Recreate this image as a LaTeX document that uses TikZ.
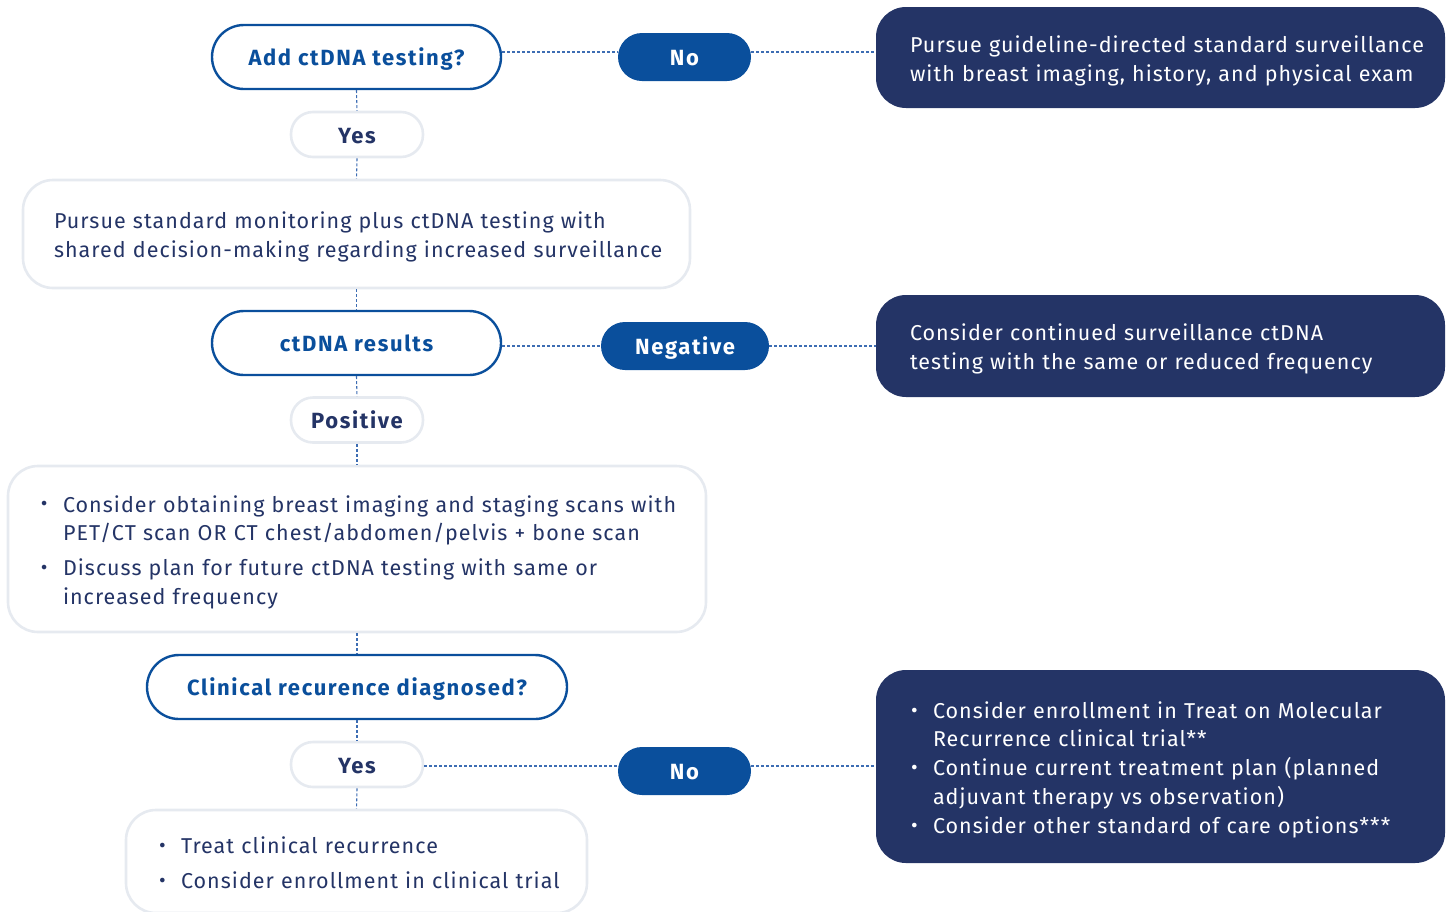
\documentclass[tikz,border=0pt]{standalone}
\usepackage{fontspec}
\setmainfont{Fira Sans}
\newfontfamily\bodyfont[LetterSpace=4.8]{Fira Sans}
\newfontfamily\tagfont[LetterSpace=7.5]{Fira Sans Bold}
\usetikzlibrary{calc}
\definecolor{midblue}{HTML}{0A4F9C}
\definecolor{navy}{HTML}{243466}
\definecolor{paleline}{HTML}{E6EAF0}
\definecolor{dashblue}{HTML}{3D6DB3}
% bullet column of fixed width
\newcommand{\bulletmark}{\makebox[20pt][l]{\hspace{-2pt}\raisebox{0.05em}{\scalebox{0.95}{\textbullet}}}}
% move text block down a little without changing its box
\newcommand{\dropby}[1]{\raisebox{-3.5pt}[\height][\depth]{#1}}
\tikzset{
  question/.style={draw=midblue, line width=2.4pt, fill=white, rounded corners=32pt,
    minimum height=64pt, inner sep=0pt, text=midblue, text height=17pt, text depth=0pt,
    font=\fontsize{22}{26}\tagfont},
  answer/.style={draw=paleline, line width=2.6pt, fill=white, rounded corners=22pt,
    minimum height=45pt, minimum width=132pt, inner sep=0pt, text=navy,
    text height=17pt, text depth=0pt, font=\fontsize{22}{26}\tagfont},
  branch/.style={fill=midblue, rounded corners=24pt, minimum height=48pt, inner sep=0pt,
    text=white, text height=17pt, text depth=0pt, font=\fontsize{22}{26}\tagfont},
  actionbox/.style={draw=paleline, line width=2.6pt, fill=white, rounded corners=30pt,
    inner ysep=0pt, text=navy, align=left, font=\fontsize{21.5}{28.8}\bodyfont},
  outcomebox/.style={fill=navy, rounded corners=30pt, inner ysep=0pt, text=white,
    align=left, font=\fontsize{21.5}{28.8}\bodyfont},
  link/.style={draw=dashblue, line width=1.1pt, dash pattern=on 3pt off 2pt}
}
\begin{document}
\begin{tikzpicture}[x=1pt,y=-1pt]
\useasboundingbox (0,0) rectangle (1448,911);

% left column
\node[question, minimum width=289pt] (add) at (356.5,57) {Add ctDNA testing?};
\node[answer] (yes1) at (357,134.5) {Yes};
\node[actionbox, text width=605pt, inner xsep=31pt, minimum height=108pt] (std) at (356.5,234)
  {\dropby{\begin{tabular}{@{}l@{}}
   Pursue standard monitoring plus ctDNA testing with\\
   shared decision-making regarding increased surveillance
   \end{tabular}}};
\node[question, minimum width=289pt] (res) at (356.5,343) {ctDNA results};
\node[answer] (pos) at (357,420) {Positive};
\node[actionbox, text width=628pt, inner xsep=35pt, minimum height=166pt] (scan) at (357,549)
  {\dropby{\begin{tabular}{@{}l@{}l@{}}
   \bulletmark & Consider obtaining breast imaging and staging scans with\\
               & PET/CT scan OR CT chest/abdomen/pelvis + bone scan\\[6pt]
   \bulletmark & Discuss plan for future ctDNA testing with same or\\
               & increased frequency
   \end{tabular}}};
\node[question, minimum width=420pt] (clin) at (357,687) {Clinical recurence diagnosed?};
\node[answer] (yes2) at (357,764.5) {Yes};
\node[actionbox, text width=391pt, inner xsep=35pt, minimum height=103pt] (treat) at (356.5,861.5)
  {\dropby{\begin{tabular}{@{}l@{}l@{}}
   \bulletmark & Treat clinical recurrence\\[6pt]
   \bulletmark & Consider enrollment in clinical trial
   \end{tabular}}};

% branch labels
\node[branch, minimum width=133pt] (no1) at (684.5,57) {No};
\node[branch, minimum width=168pt] (neg) at (685,346) {Negative};
\node[branch, minimum width=133pt] (no2) at (684.5,771) {No};

% right column
\node[outcomebox, text width=501pt, inner xsep=34pt, minimum height=101pt] (rb1) at (1160.5,57.5)
  {\dropby{\begin{tabular}{@{}l@{}}
   Pursue guideline-directed standard surveillance\\
   with breast imaging, history, and physical exam
   \end{tabular}}};
\node[outcomebox, text width=501pt, inner xsep=34pt, minimum height=102pt] (rb2) at (1160.5,346)
  {\dropby{\begin{tabular}{@{}l@{}}
   Consider continued surveillance ctDNA\\
   testing with the same or reduced frequency
   \end{tabular}}};
\node[outcomebox, text width=495pt, inner xsep=37pt, minimum height=193pt] (rb3) at (1160.5,766.5)
  {\dropby{\begin{tabular}{@{}l@{}l@{}}
   \bulletmark & Consider enrollment in Treat on Molecular\\
               & Recurrence clinical trial**\\
   \bulletmark & Continue current treatment plan (planned\\
               & adjuvant therapy vs observation)\\
   \bulletmark & Consider other standard of care options***
   \end{tabular}}};

% vertical connectors
\draw[link] (add.south) -- (yes1.north);
\draw[link] (yes1.south) -- (std.north);
\draw[link] (std.south) -- (res.north);
\draw[link] (res.south) -- (pos.north);
\draw[link] (pos.south) -- (scan.north);
\draw[link] (scan.south) -- (clin.north);
\draw[link] (clin.south) -- (yes2.north);
\draw[link] (yes2.south) -- (treat.north);

% horizontal connectors
\draw[link] ([yshift=5pt]add.east) -- ([yshift=5pt]add.east -| no1.west);
\draw[link] ([yshift=5pt]no1.east) -- ([yshift=5pt]no1.east -| rb1.west);
\draw[link] ([yshift=-3pt]res.east) -- (neg.west);
\draw[link] (neg.east) -- (rb2.west);
\draw[link] ([yshift=-1.5pt]yes2.east) -- ([yshift=-1.5pt]yes2.east -| no2.west);
\draw[link] ([yshift=-1.5pt]no2.east |- yes2.east) -- ([yshift=-1.5pt]rb3.west |- yes2.east);
\end{tikzpicture}
\end{document}
